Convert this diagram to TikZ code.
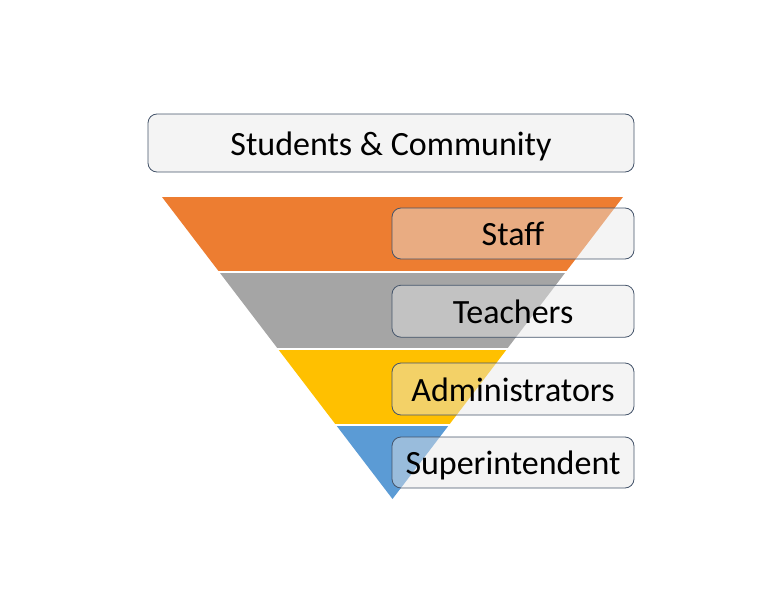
\documentclass[tikz,border=0pt]{standalone}
\usepackage{fontspec}
\setmainfont{Carlito}
\definecolor{cOrange}{HTML}{ED7D31}
\definecolor{cGray}{HTML}{A5A5A5}
\definecolor{cYellow}{HTML}{FFC000}
\definecolor{cBlue}{HTML}{5B9BD5}
\definecolor{cEdge}{HTML}{44546A}
\definecolor{cBoxFill}{RGB}{230,230,230}
\tikzset{
  labelbox/.style={draw=cEdge, line width=0.8pt, rounded corners=9pt,
    fill=cBoxFill, fill opacity=0.45, text opacity=1, text=black,
    inner sep=0pt, text height=28pt, text depth=4pt,
    font=\fontsize{34}{40}\selectfont},
}
\begin{document}
\begin{tikzpicture}[x=1pt,y=-1pt]
\useasboundingbox (0,0) rectangle (768,602);
\coordinate (tl) at (162,197);
\coordinate (tr) at (623,197);
\coordinate (apex) at (392.5,499);
\begin{scope}
  \clip (tl) -- (tr) -- (apex) -- cycle;
  \fill[cOrange] (100,190) rectangle (700,271);
  \fill[cGray]   (100,272.5) rectangle (700,348);
  \fill[cYellow] (100,349.5) rectangle (700,424.3);
  \fill[cBlue]   (100,425.8) rectangle (700,510);
\end{scope}
\node[labelbox, minimum width=486pt, minimum height=58pt] (community) at (391,143) {Students \& Community};
\node[labelbox, minimum width=242pt, minimum height=51pt] (staff) at (513,233.5) {Staff};
\node[labelbox, minimum width=242pt, minimum height=52pt] (teachers) at (513,311.2) {Teachers};
\node[labelbox, minimum width=242pt, minimum height=52pt] (admins) at (513,389) {Administrators};
\node[labelbox, minimum width=242pt, minimum height=51pt] (super) at (513,462.5) {Superintendent};
\end{tikzpicture}
\end{document}
